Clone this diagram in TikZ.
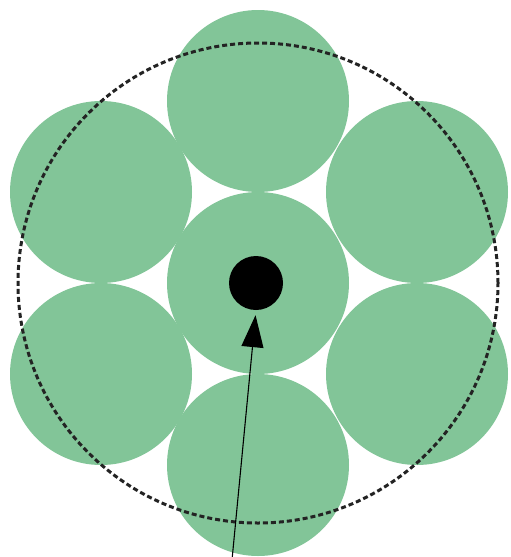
\documentclass[tikz,border=0pt]{standalone}
\usetikzlibrary{arrows.meta}
\definecolor{ballgreen}{RGB}{130,197,152}
\definecolor{dashgray}{RGB}{35,35,35}
\begin{document}
\begin{tikzpicture}[x=1pt,y=-1pt,
  ball/.style={circle,fill=ballgreen,minimum size=182pt,inner sep=0pt},
  dot/.style={circle,fill=black,minimum size=54pt,inner sep=0pt},
  envelope/.style={draw=dashgray,line width=3pt,dash pattern=on 5pt off 3pt}]
\useasboundingbox (0,0) rectangle (511,557);
\node[ball] (c) at (258,283) {};
\node[ball] (t) at (258,101) {};
\node[ball] (b) at (258,465) {};
\node[ball] (lt) at (101,192) {};
\node[ball] (lb) at (101,374) {};
\node[ball] (rt) at (417,192) {};
\node[ball] (rb) at (417,374) {};
\node[envelope,circle,minimum size=480pt,inner sep=0pt] (env) at (258,283) {};
\node[dot] (core) at (256,283) {};
\coordinate (foot) at (232,560);
\draw[line width=1.1pt,-{Triangle[length=32pt,width=22pt]},shorten >=5pt] (foot) -- (core.south);
\end{tikzpicture}
\end{document}
